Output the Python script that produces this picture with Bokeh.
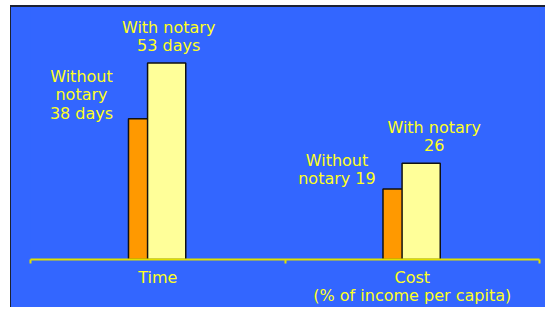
from bokeh.plotting import figure
from bokeh.models import ColumnDataSource, Range1d, LinearAxis, FixedTicker
from bokeh.core.properties import value
from bokeh.embed import file_html
from bokeh.resources import INLINE

# ---- data ----
categories = ["Time", "Cost\n(% of income per capita)"]
without_notary = [38, 19]
with_notary = [53, 26]
without_labels = ["Without\nnotary\n38 days", "Without\nnotary 19"]
with_labels = ["With notary\n53 days", "With notary\n26"]

# ---- styles ----
BLUE = "#3366FF"
ORANGE = "#FF9900"
PALE = "#FFFF99"
TXT = "#FFFF22"
AXIS = "#E0E000"
FONT = "DejaVu Sans"
BAR_W = 0.15
OFF_WO = -0.04
OFF_W = 0.035

idx = list(range(len(categories)))
x_wo = [i + 0.5 + OFF_WO for i in idx]
x_w = [i + 0.5 + OFF_W for i in idx]

p = figure(width=535, height=302, output_backend="svg", toolbar_location=None,
           x_range=Range1d(0, 2), y_range=Range1d(0, 68.0),
           x_axis_location=None, y_axis_location=None,
           min_border_left=19, min_border_right=7, min_border_top=0, min_border_bottom=50,
           background_fill_color=BLUE, border_fill_color=BLUE, outline_line_color=None)
p.margin = (5, 0, 0, 10)
p.styles = {"border-left": "1px solid #1c2233", "border-top": "2px solid #1c2233",
            "background-color": BLUE}
p.grid.visible = False

src_wo = ColumnDataSource(dict(x=x_wo, top=without_notary))
src_w = ColumnDataSource(dict(x=x_w, top=with_notary))
p.vbar(x="x", top="top", width=BAR_W, bottom=0, source=src_wo,
       fill_color=ORANGE, line_color="#111111", line_width=1.5)
p.vbar(x="x", top="top", width=BAR_W, bottom=0, source=src_w,
       fill_color=PALE, line_color="#111111", line_width=1.5)

# value labels
lab_wo = ColumnDataSource(dict(x=[x - BAR_W / 2 for x in x_wo], y=without_notary,
                               text=without_labels, xo=[-47, -46], yo=[4, -1]))
lab_w = ColumnDataSource(dict(x=x_w, y=with_notary, text=with_labels,
                              xo=[2, 13], yo=[-8, -8]))
for s in (lab_wo, lab_w):
    p.text(x="x", y="y", text="text", source=s, x_offset="xo", y_offset="yo",
           text_align="center", text_baseline="bottom",
           text_font=value(FONT), text_font_size="16px", text_color=TXT,
           text_line_height=0.97)

# category axis
ax = LinearAxis(ticker=FixedTicker(ticks=[i + 0.5 for i in idx], minor_ticks=[0, 1, 2]))
ax.major_label_overrides = {i + 0.5: c for i, c in zip(idx, categories)}
ax.axis_line_color = AXIS
ax.axis_line_width = 2
ax.major_tick_line_color = None
ax.major_tick_out = 0
ax.major_tick_in = 0
ax.minor_tick_line_color = AXIS
ax.minor_tick_line_width = 2
ax.minor_tick_out = 4
ax.minor_tick_in = 0
ax.major_label_standoff = 4
ax.major_label_text_font = FONT
ax.major_label_text_font_size = "16px"
ax.major_label_text_line_height = 0.97
ax.major_label_text_color = TXT
p.add_layout(ax, "below")

open("out.html", "w").write(file_html(p, INLINE))
